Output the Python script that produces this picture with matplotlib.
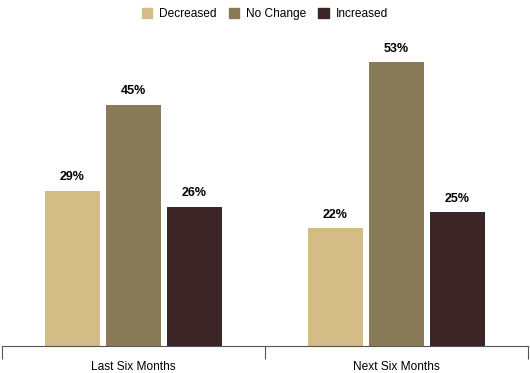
import matplotlib
matplotlib.use("Agg")
import matplotlib.pyplot as plt
import numpy as np
from matplotlib.patches import Patch

plt.rcParams['font.family'] = ['Liberation Sans', 'DejaVu Sans']

categories = ["Last Six Months", "Next Six Months"]
series_names = ["Decreased", "No Change", "Increased"]
decreased = [29, 22]
no_change = [45, 53]
increased = [26, 25]
colors = ["#D4BC86", "#8A7B58", "#3B2526"]

fig = plt.figure(figsize=(5.30, 3.73), dpi=100)
ax = fig.add_axes([2/530, 1-346/373, 526/530, 316/373])

x = np.arange(len(categories))
w = 0.212
off = 0.232
for i, (vals, c) in enumerate(zip([decreased, no_change, increased], colors)):
    pos = x + (i - 1) * off
    ax.bar(pos, vals, width=w, color=c, label=series_names[i])
    for p, v in zip(pos, vals):
        ax.text(p, v + 1.4, f"{v}%", ha='center', va='bottom', fontsize=9, fontweight='bold')

ax.set_xlim(-0.5, 1.5)
ax.set_ylim(0, 59)
for s in ['top', 'right', 'left']:
    ax.spines[s].set_visible(False)
ax.spines['bottom'].set_color('#555555')
ax.set_yticks([])
ax.set_xticks([-0.5, 0.5, 1.5])
ax.set_xticklabels([])
ax.set_xticks(x, minor=True)
ax.set_xticklabels(categories, minor=True, fontsize=8.6)
ax.tick_params(axis='x', which='major', length=9, color='#555555', direction='out')
ax.tick_params(axis='x', which='minor', length=0, pad=11)

handles = [Patch(color=c, label=n) for c, n in zip(colors, series_names)]
fig.legend(handles=handles, loc='center', bbox_to_anchor=(0.5, 1-14/373), ncol=3,
           frameon=False, fontsize=8.6, handlelength=0.85, handleheight=0.85,
           handletextpad=0.6, columnspacing=1.0)

fig.savefig("out.png", dpi=100)
